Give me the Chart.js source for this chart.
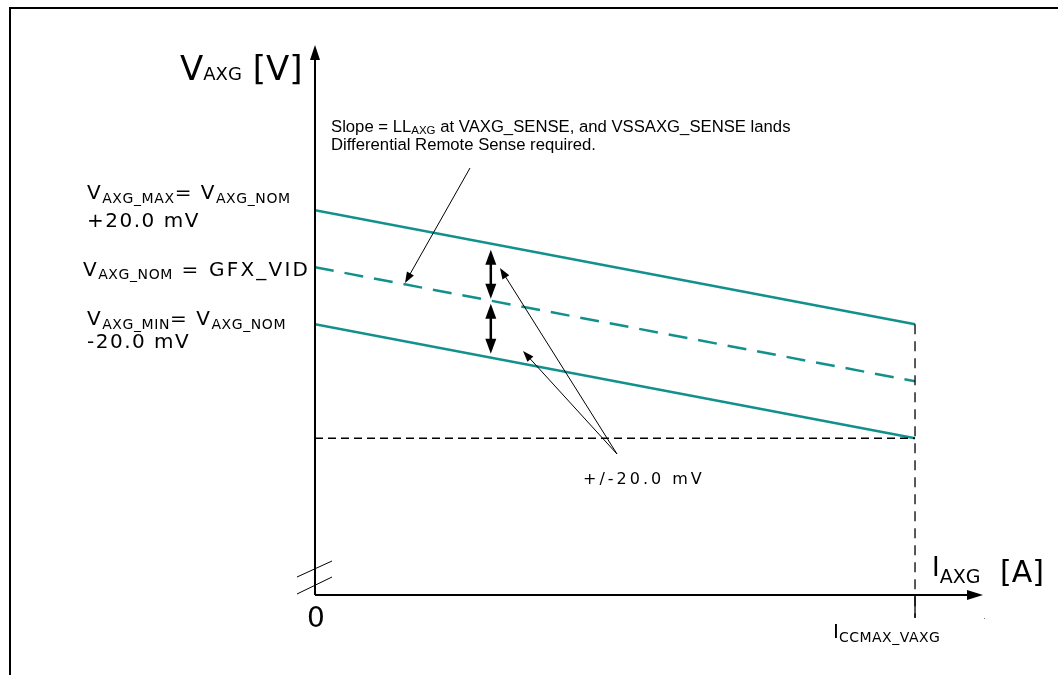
<!DOCTYPE html>
<html>
<head>
<meta charset="utf-8">
<script src="https://cdn.jsdelivr.net/npm/chart.js@4"></script>
<style>
  html, body { margin: 0; padding: 0; background: #fff; }
  #wrap { position: relative; width: 1058px; height: 675px; }
</style>
</head>
<body>
<div id="wrap"><canvas id="vr-chart"></canvas></div>
<script>
// load current, normalised so that 1 = I_CCMAX_VAXG
const currentPts = [0, 1];
// voltage relative to V_AXG_NOM, in mV
const vMaxLine = [20, -20];
const vNomLine = [0, -40];
const vMinLine = [-20, -60];
const floorLine = [-60, -60];
const iccMaxDrop = [-20, -123];
const tolBand = 20; // +/-20.0 mV
const bandAt = 0.293; // where the +/- arrows sit

const TEAL = '#12908c';
const MAIN = '"DejaVu Sans", Verdana, sans-serif';
const NOTE = '"Liberation Sans", Arial, sans-serif';

function pts(ys) {
  return currentPts.map((x, i) => ({ x, y: ys[i] }));
}

function textRuns(ctx, x, y, parts) {
  parts.forEach((p) => {
    ctx.font = `${p.size}px ${p.family || MAIN}`;
    ctx.letterSpacing = (p.ls || 0) + 'px';
    ctx.fillText(p.t, x, y + (p.dy || 0));
    x += ctx.measureText(p.t).width;
  });
  ctx.letterSpacing = '0px';
}

function arrowHead(ctx, x1, y1, x2, y2, len, half) {
  const a = Math.atan2(y2 - y1, x2 - x1);
  ctx.beginPath();
  ctx.moveTo(x2, y2);
  ctx.lineTo(x2 - len * Math.cos(a) + half * Math.sin(a), y2 - len * Math.sin(a) - half * Math.cos(a));
  ctx.lineTo(x2 - len * Math.cos(a) - half * Math.sin(a), y2 - len * Math.sin(a) + half * Math.cos(a));
  ctx.closePath();
  ctx.fill();
}

function arrow(ctx, x1, y1, x2, y2, w, len, half) {
  const a = Math.atan2(y2 - y1, x2 - x1);
  ctx.lineWidth = w;
  ctx.beginPath();
  ctx.moveTo(x1, y1);
  ctx.lineTo(x2 - len * 0.6 * Math.cos(a), y2 - len * 0.6 * Math.sin(a));
  ctx.stroke();
  arrowHead(ctx, x1, y1, x2, y2, len, half);
}

const decor = {
  id: 'decor',
  afterDatasetsDraw(chart) {
    const { ctx, chartArea: ca } = chart;
    const xs = chart.scales.x, ys = chart.scales.y;
    const ox = xs.getPixelForValue(0), oy = ca.bottom;
    ctx.save();
    ctx.fillStyle = '#000';
    ctx.strokeStyle = '#000';

    // frame
    ctx.lineWidth = 2;
    ctx.strokeRect(10, 8, 1200, 800);

    // axes with arrows
    arrow(ctx, ox, oy, ox, ca.top, 2, 15, 5);
    arrow(ctx, ox, oy, ca.right, oy, 2, 16, 5);

    // axis break marks
    ctx.lineWidth = 1;
    ctx.beginPath();
    ctx.moveTo(ox - 18, oy - 18); ctx.lineTo(ox + 17, oy - 34);
    ctx.moveTo(ox - 18, oy - 1); ctx.lineTo(ox + 17, oy - 18);
    ctx.stroke();
    ctx.fillStyle = '#777';
    ctx.fillRect(ca.right + 1, oy + 23, 1, 1);
    ctx.fillStyle = '#000';

    // solid stub of the I_CCMAX marker below the axis
    const ix = xs.getPixelForValue(1);
    ctx.lineWidth = 1.3;
    ctx.beginPath(); ctx.moveTo(ix, oy); ctx.lineTo(ix, oy + 23); ctx.stroke();

    // +/- tolerance double arrows
    const bx = xs.getPixelForValue(bandAt);
    const yMax = ys.getPixelForValue(vMaxLine[0] + (vMaxLine[1] - vMaxLine[0]) * bandAt);
    const yNom = ys.getPixelForValue(vNomLine[0] + (vNomLine[1] - vNomLine[0]) * bandAt);
    const yMin = ys.getPixelForValue(vMinLine[0] + (vMinLine[1] - vMinLine[0]) * bandAt);
    [[yMax + 6, yNom - 2], [yNom + 3, yMin - 4]].forEach(([a, b]) => {
      ctx.lineWidth = 2.5;
      ctx.beginPath(); ctx.moveTo(bx, a + 8); ctx.lineTo(bx, b - 8); ctx.stroke();
      arrowHead(ctx, bx, b, bx, a, 15, 5.5);
      arrowHead(ctx, bx, a, bx, b, 15, 5.5);
    });

    // callout arrows
    ctx.lineWidth = 1;
    arrow(ctx, 470, 168, 405, 283, 1, 11, 4);
    arrow(ctx, 617, 454, 500, 268, 1, 11, 4);
    arrow(ctx, 617, 454, 523, 351, 1, 11, 4);

    // axis titles
    textRuns(ctx, 180, 80, [
      { t: 'V', size: 34 }, { t: 'AXG', size: 18 }, { t: ' [V]', size: 34 },
    ]);
    textRuns(ctx, 932, 576, [{ t: 'I', size: 26 }, { t: 'AXG', size: 19, dy: 7 }]);
    textRuns(ctx, 1000, 582, [{ t: '[A]', size: 30 }]);
    textRuns(ctx, 307, 627, [{ t: '0', size: 28 }]);
    textRuns(ctx, 833, 638, [
      { t: 'I', size: 20 }, { t: 'CCMAX_VAXG', size: 14, dy: 4, ls: 0.5 },
    ]);

    // level labels
    textRuns(ctx, 87, 199, [
      { t: 'V', size: 20, ls: 1.5 }, { t: 'AXG_MAX', size: 14, dy: 4, ls: 0.6 },
      { t: '= V', size: 20, ls: 1.5 }, { t: 'AXG_NOM', size: 14, dy: 4, ls: 0.6 },
    ]);
    textRuns(ctx, 87, 227, [{ t: '+20.0 mV', size: 20, ls: 1.5 }]);
    textRuns(ctx, 83, 276, [
      { t: 'V', size: 20, ls: 1.5 }, { t: 'AXG_NOM', size: 14, dy: 3, ls: 0.6 },
      { t: ' = GFX_VID', size: 20, ls: 2.2 },
    ]);
    textRuns(ctx, 87, 325, [
      { t: 'V', size: 20, ls: 1.5 }, { t: 'AXG_MIN', size: 14, dy: 4, ls: 0.6 },
      { t: '= V', size: 20, ls: 1.5 }, { t: 'AXG_NOM', size: 14, dy: 4, ls: 0.6 },
    ]);
    textRuns(ctx, 87, 348, [{ t: '-20.0 mV', size: 20, ls: 1.5 }]);

    // notes
    textRuns(ctx, 331, 132, [
      { t: 'Slope = LL', size: 16.7, family: NOTE },
      { t: 'AXG', size: 11.5, dy: 2, family: NOTE },
      { t: ' at VAXG_SENSE, and VSSAXG_SENSE lands', size: 16.7, family: NOTE },
    ]);
    textRuns(ctx, 331, 150, [{ t: 'Differential Remote Sense required.', size: 16.7, family: NOTE }]);
    textRuns(ctx, 583, 484, [{ t: '+/-' + tolBand.toFixed(1) + ' mV', size: 16, ls: 3 }]);

    ctx.restore();
  },
};

const line = (ys, extra) => Object.assign({
  data: pts(ys), showLine: true, pointRadius: 0, borderColor: TEAL,
  borderWidth: 2.5, fill: false,
}, extra);

new Chart(document.getElementById('vr-chart'), {
  type: 'scatter',
  data: {
    datasets: [
      line(floorLine, { borderColor: '#000', borderWidth: 1.3, borderDash: [8, 5] }),
      line(iccMaxDrop, { borderColor: '#000', borderWidth: 1.3, borderDash: [10, 7], clip: false,
        data: [{ x: 1, y: iccMaxDrop[0] }, { x: 1, y: iccMaxDrop[1] }] }),
      line(vMaxLine),
      line(vNomLine, { borderDash: [19, 11] }),
      line(vMinLine),
    ],
  },
  options: {
    responsive: true,
    maintainAspectRatio: false,
    animation: false,
    layout: { padding: { left: 315, right: 75, top: 45, bottom: 80 } },
    plugins: { legend: { display: false }, tooltip: { enabled: false } },
    scales: {
      x: { type: 'linear', min: 0, max: 1.1133, display: false },
      y: { min: -115, max: 78, display: false },
    },
  },
  plugins: [decor],
});
</script>
</body>
</html>
